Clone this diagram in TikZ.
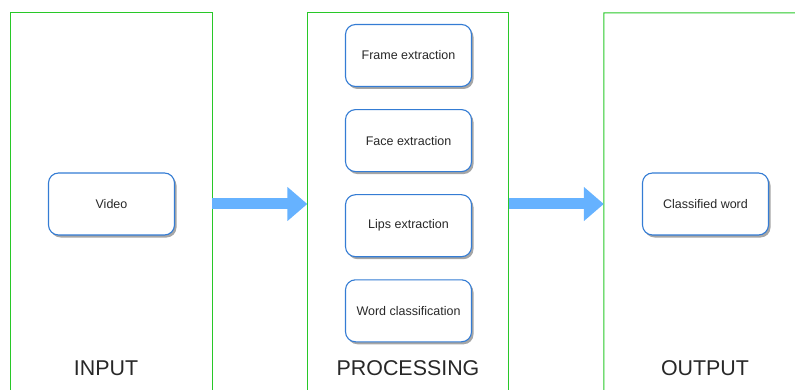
\documentclass[tikz,border=0pt]{standalone}
\usepackage{fontspec}
\setmainfont{Liberation Sans}
\usepackage{tikz}
\usetikzlibrary{positioning,calc,arrows.meta,shadows}
\definecolor{panel-green}{RGB}{40,200,40}
\definecolor{box-blue}{RGB}{52,124,212}
\definecolor{arrow-blue}{RGB}{102,178,255}
\definecolor{text-grey}{RGB}{40,40,40}

\tikzset{
panel/.style={minimum width=201pt, minimum height=377pt, inner sep=0pt},
stagebox/.style={draw=box-blue, line width=1.1pt, fill=white, rounded corners=10pt,
  minimum width=126pt, minimum height=62pt, text=text-grey, font=\fontsize{12.5}{15}\selectfont,
  drop shadow={shadow xshift=2pt, shadow yshift=-2.5pt, fill=black, opacity=0.35}},
paneltitle/.style={text=text-grey, font=\fontsize{21.4}{25}\selectfont},
bigarrow/.style={arrow-blue, line width=11pt, -{Triangle[length=20pt,width=33pt]}}
}

\begin{document}
\begin{tikzpicture}[x=1pt,y=-1pt]
\useasboundingbox (0,0) rectangle (795,390);%reference size
\node [panel, name=inputpanel] at (111.5,201.5) {};
\node [panel, name=procpanel] at (408,201.5) {};
\node [panel, name=outputpanel] at (704.5,201.5) {};
\coordinate (outputend) at (795,13);%top line runs off the page

% panel outlines, open at the bottom
\draw [panel-green, line width=1pt] (inputpanel.south west) -- (inputpanel.north west) -- (inputpanel.north east) -- (inputpanel.south east);
\draw [panel-green, line width=1pt] (procpanel.south west) -- (procpanel.north west) -- (procpanel.north east) -- (procpanel.south east);
\draw [panel-green, line width=1pt] (outputpanel.south west) -- (outputpanel.north west) -- (outputend);

% input
\node [stagebox, name=video] at (111.5,204) {Video};
\node [paneltitle, name=inputtitle] at (106,368) {INPUT};

% processing
\node [stagebox, name=frame] at (408.5,55.5) {Frame extraction};
\node [stagebox, name=face, below=22pt of frame] {Face extraction};
\node [stagebox, name=lips, below=22pt of face] {Lips extraction};
\node [stagebox, name=wordclass, below=22pt of lips] {Word classification};
\node [paneltitle, name=proctitle] at (408,368) {PROCESSING};

% output
\node [stagebox, name=classified] at (705.5,204) {Classified word};
\node [paneltitle, name=outputtitle] at (705,368) {OUTPUT};

% arrows between panels
\draw [bigarrow] (inputpanel.east |- video.east) -- (procpanel.west |- video.east);
\draw [bigarrow] (procpanel.east |- video.east) -- (outputpanel.west |- video.east);

\end{tikzpicture}
\end{document}
